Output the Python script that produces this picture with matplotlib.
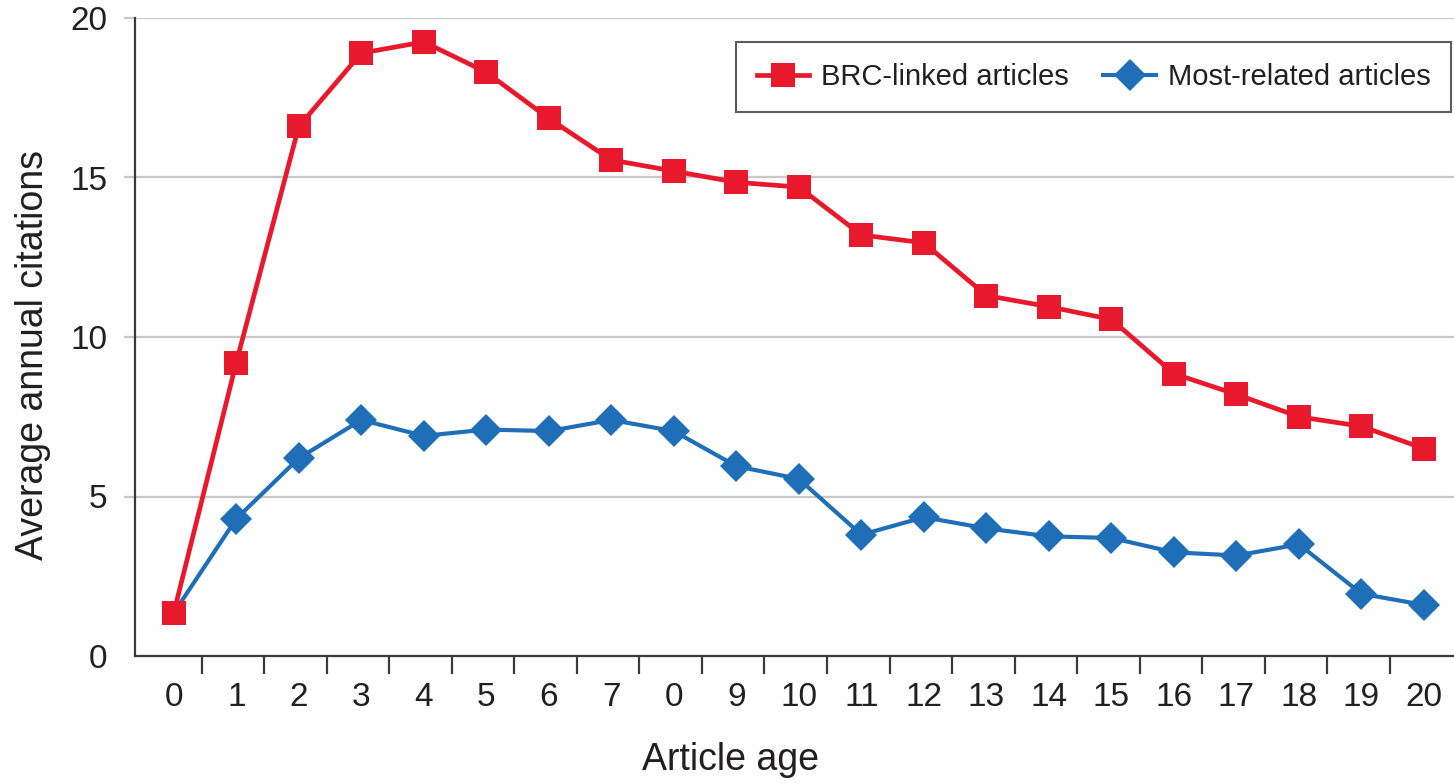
import numpy as np
import matplotlib.pyplot as plt

# article age categories (original axis shows "0" where 8 should be)
age_labels = ['0', '1', '2', '3', '4', '5', '6', '7', '0', '9', '10',
              '11', '12', '13', '14', '15', '16', '17', '18', '19', '20']
brc_linked = [1.35, 9.2, 16.6, 18.9, 19.25, 18.3, 16.85, 15.55, 15.2, 14.85, 14.7,
              13.2, 12.95, 11.3, 10.95, 10.55, 8.85, 8.2, 7.5, 7.2, 6.5]
most_related = [1.35, 4.3, 6.2, 7.4, 6.9, 7.1, 7.05, 7.4, 7.05, 5.95, 5.55,
                3.8, 4.35, 4.0, 3.75, 3.7, 3.25, 3.15, 3.5, 1.95, 1.6]
y_ticks = [0, 5, 10, 15, 20]

plt.rcParams['font.family'] = ['Liberation Sans', 'DejaVu Sans']
red = '#e8192c'
blue = '#1f6fb8'
dark = '#231f20'

fig = plt.figure(figsize=(14.54, 7.84), dpi=100)
ax = fig.add_axes([135/1454, 1 - 656/784, 1 - 135/1454, (656 - 18)/784])

x = np.arange(len(age_labels))
# first blue point sits under the red square
ax.plot(x, most_related, color=blue, lw=3.0, marker='D', markersize=16,
        markeredgewidth=0, markevery=list(range(1, len(x))),
        label='Most-related articles', zorder=3)
ax.plot(x, brc_linked, color=red, lw=3.4, marker='s', markersize=17,
        markeredgewidth=0, label='BRC-linked articles', zorder=4)

ax.set_xlim(-0.62, 20.48)
ax.set_ylim(0, 20)

# grid
for v in y_ticks[1:]:
    ax.axhline(v, color='#c8c8c8', lw=1.6, zorder=1)

ax.set_yticks(y_ticks)
ax.tick_params(axis='y', length=8, width=1.6, color='#c8c8c8', pad=12,
               labelsize=24, labelcolor=dark)
ax.yaxis.get_major_ticks()[0].tick1line.set_visible(False)

ax.set_xticks(x)
ax.set_xticklabels(age_labels)
ax.tick_params(axis='x', which='major', length=0, pad=19, labelsize=24,
               labelcolor=dark)
ax.set_xticks(x[:-1] + 0.45, minor=True)
ax.tick_params(axis='x', which='minor', length=13, width=1.6, color='#3a3a3a')

for s in ['top', 'right']:
    ax.spines[s].set_visible(False)
for s in ['left', 'bottom']:
    ax.spines[s].set_color('#3a3a3a')
    ax.spines[s].set_linewidth(1.6)

handles, labels = ax.get_legend_handles_labels()
leg = ax.legend(handles[::-1], labels[::-1], ncol=2, loc='upper right',
                bbox_to_anchor=(0.998, 0.962), borderaxespad=0,
                fontsize=21, frameon=True, fancybox=False, edgecolor='#333333',
                handlelength=1.8, handletextpad=0.4, columnspacing=1.2,
                borderpad=0.72)
leg.get_frame().set_linewidth(1.5)
for t in leg.get_texts():
    t.set_color(dark)

fig.text(33/1454, 1 - 355/784, 'Average annual citations', rotation=90,
         ha='center', va='center', fontsize=27, color=dark)
fig.text(731/1454, 1 - 760/784, 'Article age', ha='center', va='center',
         fontsize=27, color=dark)

fig.savefig('out.png', dpi=100)
